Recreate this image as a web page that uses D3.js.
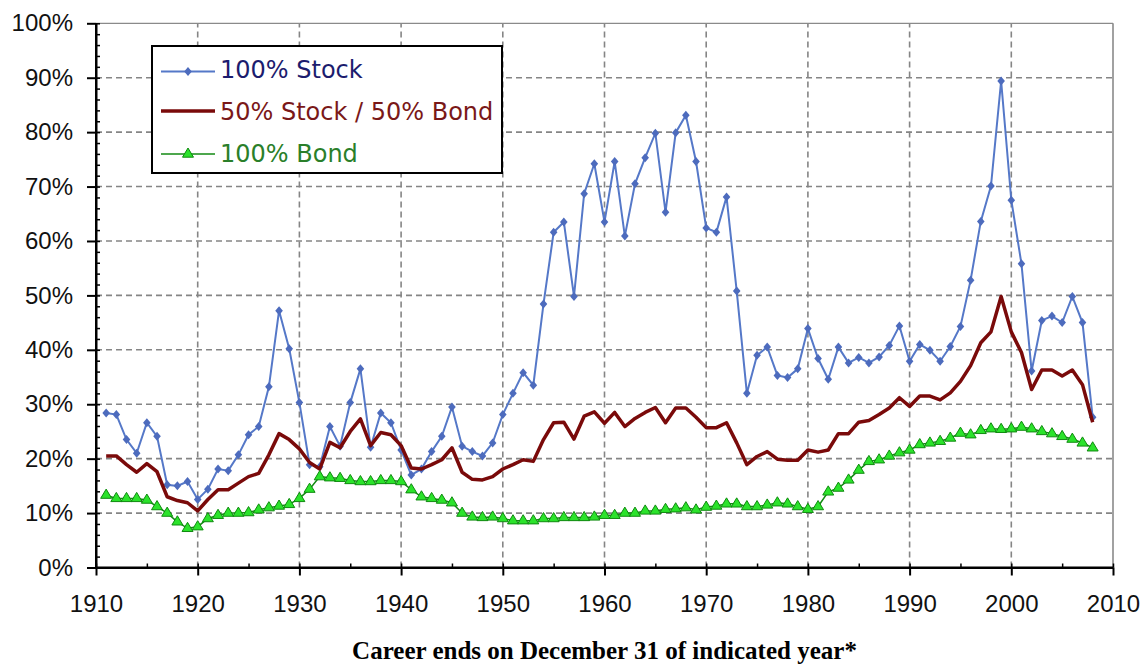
<!DOCTYPE html>
<html>
<head>
<meta charset="utf-8">
<script src="https://cdn.jsdelivr.net/npm/d3@7"></script>
<style>
  html, body { margin: 0; padding: 0; background: #fff; }
  svg { display: block; }
</style>
</head>
<body>
<svg id="chart" width="1143" height="666"></svg>
<script>
const years = d3.range(1911, 2009);

const stock = [
  28.4, 28.1, 23.5, 21.0, 26.6, 24.1, 15.2, 15.0, 15.8, 12.5,
  14.4, 18.1, 17.8, 20.7, 24.4, 25.9, 33.2, 47.2, 40.2, 30.3,
  18.9, 18.5, 25.9, 22.3, 30.3, 36.5, 22.1, 28.4, 26.6, 21.6,
  17.0, 18.1, 21.3, 24.1, 29.5, 22.3, 21.3, 20.5, 22.9, 28.1,
  32.0, 35.8, 33.5, 48.4, 61.6, 63.5, 49.8, 68.7, 74.2, 63.5,
  74.6, 60.9, 70.5, 75.3, 79.8, 65.3, 79.9, 83.1, 74.6, 62.4,
  61.6, 68.1, 50.8, 32.0, 39.0, 40.5, 35.3, 34.9, 36.5, 43.9,
  38.4, 34.6, 40.5, 37.6, 38.6, 37.6, 38.7, 40.8, 44.4, 37.9,
  41.0, 39.9, 37.9, 40.6, 44.3, 52.8, 63.6, 70.1, 89.4, 67.5,
  55.8, 36.1, 45.4, 46.2, 45.0, 49.8, 45.0, 27.6
];

const mixed = [
  20.5, 20.5, 18.9, 17.5, 19.1, 17.6, 13.0, 12.3, 11.9, 10.4,
  12.5, 14.3, 14.3, 15.5, 16.7, 17.3, 20.7, 24.6, 23.5, 21.8,
  19.3, 18.1, 23.0, 22.0, 25.0, 27.3, 22.4, 24.8, 24.4, 22.4,
  18.3, 18.1, 18.9, 19.8, 22.0, 17.5, 16.2, 16.1, 16.7, 18.1,
  18.9, 19.8, 19.5, 23.5, 26.6, 26.7, 23.6, 27.8, 28.6, 26.5,
  28.5, 25.9, 27.4, 28.5, 29.4, 26.6, 29.3, 29.3, 27.6, 25.7,
  25.7, 26.6, 22.9, 18.9, 20.4, 21.3, 19.9, 19.7, 19.7, 21.6,
  21.2, 21.6, 24.6, 24.6, 26.7, 27.0, 28.1, 29.3, 31.2, 29.6,
  31.5, 31.5, 30.8, 32.1, 34.2, 37.1, 41.3, 43.3, 49.8, 43.3,
  39.5, 32.7, 36.3, 36.3, 35.2, 36.3, 33.6, 26.7
];

const bond = [
  13.3, 12.7, 12.7, 12.7, 12.4, 11.2, 10.0, 8.4, 7.2, 7.5,
  9.0, 9.6, 10.0, 10.0, 10.1, 10.6, 11.0, 11.3, 11.6, 12.7,
  14.4, 16.7, 16.5, 16.4, 16.0, 15.8, 15.8, 16.0, 16.0, 15.8,
  14.3, 13.0, 12.7, 12.4, 11.9, 10.0, 9.3, 9.2, 9.3, 9.0,
  8.6, 8.6, 8.6, 9.0, 9.0, 9.2, 9.2, 9.2, 9.3, 9.6,
  9.6, 10.0, 10.0, 10.4, 10.4, 10.7, 10.8, 11.0, 10.6, 11.1,
  11.3, 11.7, 11.7, 11.2, 11.2, 11.5, 11.9, 11.7, 11.2, 10.7,
  11.2, 13.9, 14.6, 16.1, 17.9, 19.5, 19.8, 20.5, 21.1, 21.6,
  22.6, 22.9, 23.2, 23.8, 24.7, 24.4, 25.2, 25.5, 25.4, 25.5,
  25.8, 25.5, 25.0, 24.6, 24.1, 23.6, 22.9, 22.0
];

const xTicks = [1910, 1920, 1930, 1940, 1950, 1960, 1970, 1980, 1990, 2000, 2010];
const yTicks = [0, 10, 20, 30, 40, 50, 60, 70, 80, 90, 100];
const seriesNames = ["100% Stock", "50% Stock / 50% Bond", "100% Bond"];
const xTitle = "Career ends on December 31 of indicated year*";

const svg = d3.select("#chart");
svg.append("rect").attr("width", 1143).attr("height", 666).attr("fill", "#fff");

const x = d3.scaleLinear().domain([1910, 2010]).range([96, 1113]);
const y = d3.scaleLinear().domain([0, 100]).range([567.5, 23.3]);

// gridlines
const grid = svg.append("g");
grid.selectAll("line.h").data(yTicks.filter(d => d > 0 && d < 100)).join("line")
  .attr("x1", x(1910)).attr("x2", x(2010))
  .attr("y1", d => y(d)).attr("y2", d => y(d))
  .attr("stroke", "#858585").attr("stroke-width", 1.6).attr("stroke-dasharray", "6,4");
grid.selectAll("line.v").data(xTicks.filter(d => d > 1910 && d < 2010)).join("line")
  .attr("x1", d => x(d)).attr("x2", d => x(d))
  .attr("y1", y(0)).attr("y2", y(100))
  .attr("stroke", "#858585").attr("stroke-width", 1.6).attr("stroke-dasharray", "6,4");
// top and right border
svg.append("line").attr("x1", x(1910)).attr("x2", x(2010)).attr("y1", y(100)).attr("y2", y(100))
  .attr("stroke", "#8a8a8a").attr("stroke-width", 1.2);
svg.append("line").attr("x1", x(2010)).attr("x2", x(2010)).attr("y1", y(100)).attr("y2", y(0))
  .attr("stroke", "#8a8a8a").attr("stroke-width", 1.6);

// series
const lineGen = d3.line().x((d, i) => x(years[i])).y(d => y(d));

const stockColor = "#5578c8";
const redColor = "#7a0a0a";
const greenLine = "#138a13";

svg.append("path").datum(stock).attr("d", lineGen)
  .attr("fill", "none").attr("stroke", stockColor).attr("stroke-width", 2);
const diamond = "M0,-4.5L3.8,0L0,4.5L-3.8,0Z";
svg.append("g").selectAll("path").data(stock).join("path")
  .attr("d", diamond)
  .attr("transform", (d, i) => `translate(${x(years[i])},${y(d)})`)
  .attr("fill", "#4d6bbd");

svg.append("path").datum(mixed).attr("d", lineGen)
  .attr("fill", "none").attr("stroke", redColor).attr("stroke-width", 3.5)
  .attr("stroke-linejoin", "round");

svg.append("path").datum(bond).attr("d", lineGen)
  .attr("fill", "none").attr("stroke", greenLine).attr("stroke-width", 1.5);
const tri = "M0,-6L5.5,3.2L-5.5,3.2Z";
svg.append("g").selectAll("path").data(bond).join("path")
  .attr("d", tri)
  .attr("transform", (d, i) => `translate(${x(years[i])},${y(d)})`)
  .attr("fill", "#2be32b").attr("stroke", "#0f8a0f").attr("stroke-width", 1);

// axes
const font = "'Liberation Sans', Arial, sans-serif";
const yAxis = svg.append("g").attr("transform", `translate(${x(1910)},0)`)
  .call(d3.axisLeft(y).tickValues(yTicks).tickFormat(d => d + "%").tickSizeInner(9).tickSizeOuter(0).tickPadding(14));
const yMinor = svg.append("g").attr("transform", `translate(${x(1910)},0)`)
  .call(d3.axisRight(y).tickValues(d3.range(0, 101, 2)).tickFormat("").tickSizeInner(4).tickSizeOuter(0));
const xAxis = svg.append("g").attr("transform", `translate(0,${y(0)})`)
  .call(d3.axisBottom(x).tickValues(xTicks).tickFormat(d3.format("d")).tickSizeInner(8).tickSizeOuter(0).tickPadding(19));
const xMinor = svg.append("g").attr("transform", `translate(0,${y(0)})`)
  .call(d3.axisTop(x).tickValues(d3.range(1910, 2011, 5)).tickFormat("").tickSizeInner(4).tickSizeOuter(0));

[yAxis, xAxis].forEach(g => {
  g.selectAll("text").attr("font-family", font).attr("font-size", 24).attr("fill", "#111");
});
[yAxis, yMinor, xAxis, xMinor].forEach(g => {
  g.selectAll("line").attr("stroke", "#000").attr("stroke-width", 2);
  g.select(".domain").attr("stroke", "#000").attr("stroke-width", 2);
});
yMinor.select(".domain").remove();
xMinor.select(".domain").remove();
yMinor.selectAll("line").attr("stroke-width", 1.5);
xMinor.selectAll("line").attr("stroke-width", 1.5);
// redraw domain lines fully
svg.append("line").attr("x1", x(1910)).attr("x2", x(2010)).attr("y1", y(0)).attr("y2", y(0))
  .attr("stroke", "#000").attr("stroke-width", 2);
svg.append("line").attr("x1", x(1910)).attr("x2", x(1910)).attr("y1", y(0)).attr("y2", y(100))
  .attr("stroke", "#000").attr("stroke-width", 2);

// x title
svg.append("text")
  .attr("x", (x(1910) + x(2010)) / 2).attr("y", 659)
  .attr("text-anchor", "middle")
  .attr("font-family", "'Liberation Serif', 'Times New Roman', serif")
  .attr("font-weight", "bold").attr("font-size", 25).attr("fill", "#000")
  .text(xTitle);

// legend
const lg = svg.append("g");
lg.append("rect").attr("x", 152).attr("y", 46).attr("width", 350).attr("height", 127)
  .attr("fill", "#fff").attr("stroke", "#000").attr("stroke-width", 2);
const legendRows = [
  { name: seriesNames[0], ly: 71.5, ty: 78.3, color: "#1c1c6e" },
  { name: seriesNames[1], ly: 111, ty: 120, color: "#7a1818" },
  { name: seriesNames[2], ly: 154, ty: 161.7, color: "#2a7f2a" }
];
lg.append("line").attr("x1", 161).attr("x2", 215).attr("y1", legendRows[0].ly).attr("y2", legendRows[0].ly)
  .attr("stroke", stockColor).attr("stroke-width", 2);
lg.append("path").attr("d", diamond).attr("transform", `translate(188,${legendRows[0].ly})`).attr("fill", "#4d6bbd");
lg.append("line").attr("x1", 161).attr("x2", 215).attr("y1", legendRows[1].ly).attr("y2", legendRows[1].ly)
  .attr("stroke", redColor).attr("stroke-width", 3.5);
lg.append("line").attr("x1", 161).attr("x2", 215).attr("y1", legendRows[2].ly).attr("y2", legendRows[2].ly)
  .attr("stroke", greenLine).attr("stroke-width", 1.5);
lg.append("path").attr("d", tri).attr("transform", `translate(188,${legendRows[2].ly})`)
  .attr("fill", "#2be32b").attr("stroke", "#0f8a0f").attr("stroke-width", 1);
lg.selectAll("text").data(legendRows).join("text")
  .attr("x", 220).attr("y", d => d.ty)
  .attr("font-family", "'DejaVu Sans', Verdana, sans-serif").attr("font-size", 24)
  .attr("fill", d => d.color)
  .text(d => d.name);
</script>
</body>
</html>
